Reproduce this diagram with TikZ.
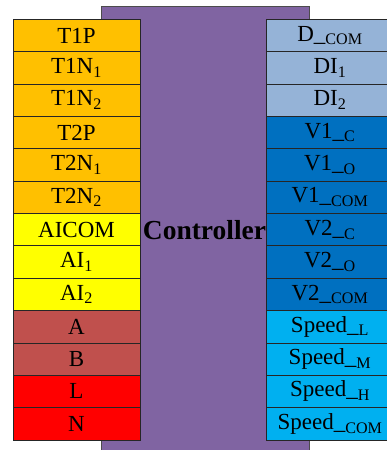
\documentclass[tikz,border=0pt]{standalone}
\usepackage{fontspec}
\setmainfont{Liberation Serif}
\definecolor{cOrange}{HTML}{FFC000}
\definecolor{cYellow}{HTML}{FFFF00}
\definecolor{cBrick}{HTML}{C0504D}
\definecolor{cRed}{HTML}{FF0000}
\definecolor{cGrey}{HTML}{95B3D7}
\definecolor{cBlue}{HTML}{0070C0}
\definecolor{cSky}{HTML}{00B0F0}
\definecolor{cPurple}{HTML}{8064A2}
\newcommand{\sbs}[1]{\textsubscript{#1}}
\begin{document}
\begin{tikzpicture}[x=1pt,y=-1pt,
  cell/.style={draw=black!85, line width=0.8pt, minimum width=127pt, minimum height=32.36pt,
    inner sep=0pt, font=\fontsize{23}{26}\selectfont, text=black},
  ctrlbox/.style={draw=black!70, line width=0.8pt, fill=cPurple}]
\useasboundingbox (0,0) rectangle (387,450);
\clip (0,0) rectangle (387,450);
\draw[ctrlbox] (101,6) rectangle (309,460);
\foreach \i/\t/\c in {1/T1P/cOrange, 2/T1N\sbs{1}/cOrange, 3/T1N\sbs{2}/cOrange,
  4/T2P/cOrange, 5/T2N\sbs{1}/cOrange, 6/T2N\sbs{2}/cOrange, 7/AICOM/cYellow,
  8/AI\sbs{1}/cYellow, 9/AI\sbs{2}/cYellow, 10/A/cBrick, 11/B/cBrick, 12/L/cRed, 13/N/cRed}
  \node[cell, fill=\c] (L\i) at (76.5, {19.3+(\i-0.5)*32.36}) {\t};
\foreach \i/\t/\c in {1/D\_\sbs{COM}/cGrey, 2/DI\sbs{1}/cGrey, 3/DI\sbs{2}/cGrey,
  4/V1\_\sbs{C}/cBlue, 5/V1\_\sbs{O}/cBlue, 6/V1\_\sbs{COM}/cBlue, 7/V2\_\sbs{C}/cBlue,
  8/V2\_\sbs{O}/cBlue, 9/V2\_\sbs{COM}/cBlue, 10/Speed\_\sbs{L}/cSky, 11/Speed\_\sbs{M}/cSky,
  12/Speed\_\sbs{H}/cSky, 13/Speed\_\sbs{COM}/cSky}
  \node[cell, fill=\c] (R\i) at (330, {19.3+(\i-0.5)*32.36}) {\t};
\node[font=\fontsize{27.5}{31}\bfseries\selectfont, inner sep=0pt] (ctrl) at (204.5, 229.7) {Controller};
\end{tikzpicture}
\end{document}
